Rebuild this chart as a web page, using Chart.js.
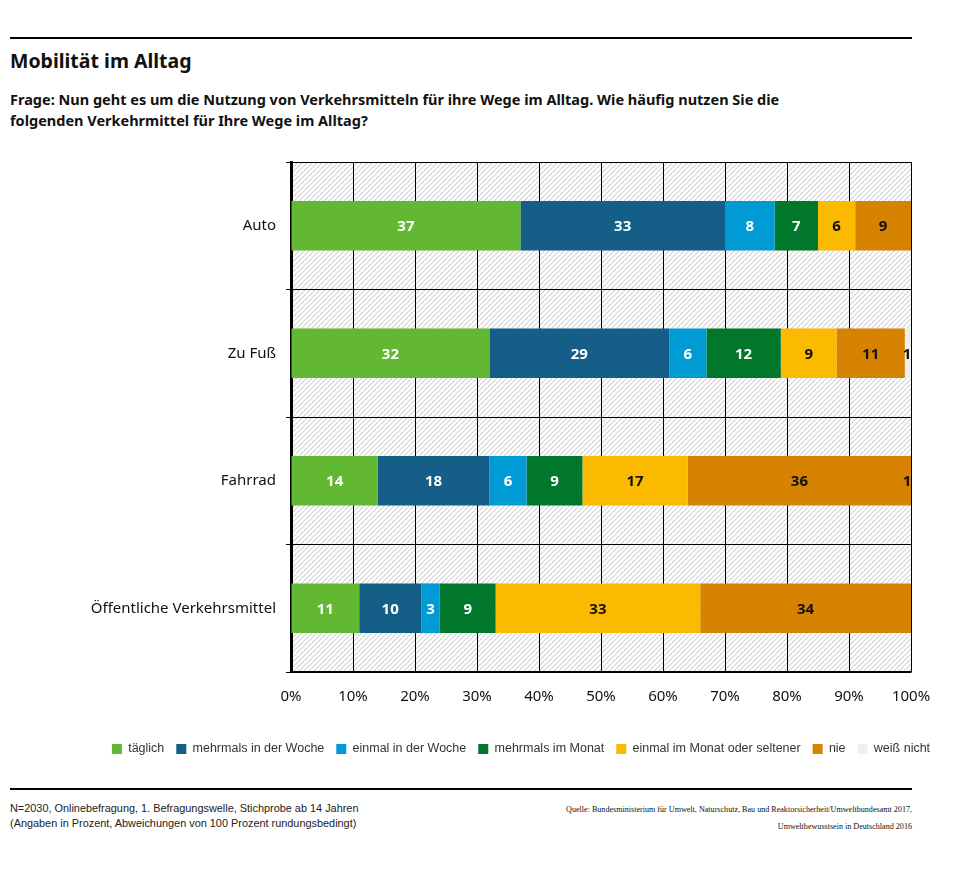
<!DOCTYPE html>
<html>
<head>
<meta charset="utf-8">
<script src="https://cdn.jsdelivr.net/npm/chart.js@4"></script>
<style>
  body { margin: 0; width: 959px; height: 881px; overflow: hidden; background: #fff; font-family: "Noto Sans", sans-serif; position: relative; }
  .rule { position: absolute; left: 10px; width: 902px; height: 2px; background: #000; }
  #title { position: absolute; left: 10px; top: 47px; font-size: 19.5px; font-weight: bold; color: #111; }
  #question { position: absolute; left: 10px; top: 89px; font-size: 14.5px; font-weight: bold; line-height: 21px; color: #111; }
  #chartBox { position: absolute; left: 0; top: 150px; width: 959px; height: 620px; }
  #noteLeft { position: absolute; left: 10px; top: 801px; font-family: "Liberation Sans", sans-serif; font-size: 10.9px; line-height: 15px; color: #222; }
  #noteRight { position: absolute; right: 47px; top: 801px; font-family: "Liberation Serif", serif; font-size: 8.1px; line-height: 17px; color: #111; text-align: right; }
</style>
</head>
<body>
<div class="rule" style="top:37px"></div>
<div id="title">Mobilität im Alltag</div>
<div id="question">Frage: Nun geht es um die Nutzung von Verkehrsmitteln für ihre Wege im Alltag. Wie häufig nutzen Sie die<br>folgenden Verkehrmittel für Ihre Wege im Alltag?</div>
<div id="chartBox"><canvas id="chart" width="959" height="620"></canvas></div>
<div class="rule" style="top:788px"></div>
<div id="noteLeft">N=2030, Onlinebefragung, 1. Befragungswelle, Stichprobe ab 14 Jahren<br>(Angaben in Prozent, Abweichungen von 100 Prozent rundungsbedingt)</div>
<div id="noteRight">Quelle: Bundesministerium für Umwelt, Naturschutz, Bau und Reaktorsicherheit/Umweltbundesamt 2017,<br>Umweltbewusstsein in Deutschland 2016</div>

<script>
const categories = ['Auto', 'Zu Fuß', 'Fahrrad', 'Öffentliche Verkehrsmittel'];
const seriesNames = ['täglich', 'mehrmals in der Woche', 'einmal in der Woche', 'mehrmals im Monat', 'einmal im Monat oder seltener', 'nie', 'weiß nicht'];
const taeglich = [37, 32, 14, 11];
const mehrmalsWoche = [33, 29, 18, 10];
const einmalWoche = [8, 6, 6, 3];
const mehrmalsMonat = [7, 12, 9, 9];
const einmalMonat = [6, 9, 17, 33];
const nie = [9, 11, 36, 34];
const weissNicht = [0, 1, 1, 0];
const xTicks = [0, 10, 20, 30, 40, 50, 60, 70, 80, 90, 100];

const colors = ['#62b832', '#155e87', '#009bd5', '#00772b', '#fbb900', '#d58300', '#efefef'];
const labelColors = ['#fff', '#fff', '#fff', '#fff', '#111', '#111', '#111'];
const allSeries = [taeglich, mehrmalsWoche, einmalWoche, mehrmalsMonat, einmalMonat, nie, weissNicht];

// schraffierter Hintergrund
function makeHatch() {
  const c = document.createElement('canvas');
  c.width = 5; c.height = 5;
  const g = c.getContext('2d');
  g.fillStyle = '#fff';
  g.fillRect(0, 0, 5, 5);
  g.strokeStyle = '#d2d2d2';
  g.lineWidth = 1.1;
  g.beginPath();
  g.moveTo(0, 5); g.lineTo(5, 0);
  g.moveTo(-1, 1); g.lineTo(1, -1);
  g.moveTo(4, 6); g.lineTo(6, 4);
  g.stroke();
  return c;
}

const hatchPlugin = {
  id: 'hatch',
  beforeDraw(chart) {
    const { ctx, chartArea: a } = chart;
    ctx.save();
    ctx.fillStyle = ctx.createPattern(makeHatch(), 'repeat');
    ctx.fillRect(a.left, a.top, a.right - a.left, a.bottom - a.top);
    ctx.restore();
  }
};

const valueLabels = {
  id: 'valueLabels',
  afterDatasetsDraw(chart) {
    const { ctx, chartArea: a } = chart;
    ctx.save();
    ctx.font = 'bold 15px "Noto Sans"';
    ctx.textAlign = 'center';
    ctx.textBaseline = 'middle';
    chart.data.datasets.forEach((ds, i) => {
      chart.getDatasetMeta(i).data.forEach((bar, j) => {
        const v = ds.data[j];
        if (!v) return;
        let x = (bar.x + bar.base) / 2;
        if (x > a.right - 4) x = a.right - 4;
        ctx.fillStyle = labelColors[i];
        ctx.fillText(v, x, bar.y + 1);
      });
    });
    ctx.restore();
  }
};

new Chart(document.getElementById('chart'), {
  type: 'bar',
  data: {
    labels: categories,
    datasets: allSeries.map((d, i) => ({
      label: seriesNames[i],
      data: d,
      backgroundColor: colors[i],
      borderWidth: 0,
      barPercentage: 0.39,
      categoryPercentage: 1
    }))
  },
  options: {
    indexAxis: 'y',
    responsive: false,
    animation: false,
    layout: { padding: { left: 83, right: 0, top: 12, bottom: 4.75 } },
    plugins: {
      legend: {
        position: 'bottom',
        labels: {
          boxWidth: 10,
          boxHeight: 10,
          padding: 12,
          color: '#333',
          font: { family: 'Liberation Sans', size: 12.5 }
        }
      },
      tooltip: { enabled: false }
    },
    scales: {
      x: {
        stacked: true,
        min: 0,
        max: 100,
        afterBuildTicks: s => { s.ticks = xTicks.map(v => ({ value: v })); },
        afterFit: s => { s.height = 58.75; s.paddingLeft = 0; s.paddingRight = 0; },
        grid: { color: '#000', lineWidth: 1, drawTicks: false },
        border: { color: '#000', width: 1.5 },
        ticks: {
          padding: 16,
          color: '#111',
          font: { family: 'Noto Sans', size: 15 },
          callback: v => v + '%'
        }
      },
      y: {
        stacked: true,
        afterFit: s => { s.width = 208; s.paddingTop = 0; s.paddingBottom = 0; },
        grid: { color: '#000', lineWidth: 1, tickLength: 5, offset: true },
        border: { color: '#000', width: 3 },
        ticks: {
          padding: 10,
          color: '#111',
          font: { family: 'Noto Sans', size: 15 }
        }
      },
      y2: {
        type: 'category',
        position: 'right',
        display: true,
        afterFit: s => { s.width = 48; s.paddingTop = 0; s.paddingBottom = 0; },
        grid: { display: false },
        border: { display: false },
        ticks: { display: false }
      }
    }
  },
  plugins: [hatchPlugin, valueLabels]
});
</script>
</body>
</html>
